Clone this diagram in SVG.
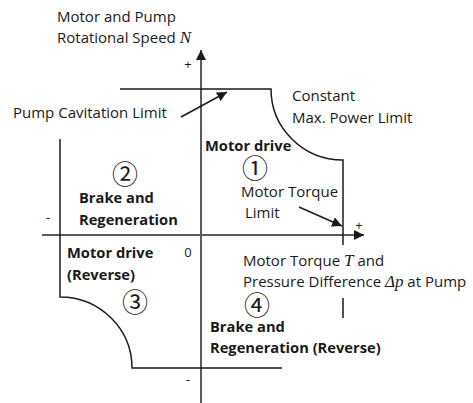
<svg xmlns="http://www.w3.org/2000/svg" width="473" height="403" viewBox="0 0 473 403">
<defs>
<style>
.t{font-family:"Open Sans","Noto Sans",sans-serif;font-size:15px;fill:#1a1a1a}
.b{font-family:"Open Sans","Noto Sans",sans-serif;font-size:14.7px;font-weight:bold;fill:#1a1a1a}
.i{font-family:"Liberation Serif",serif;font-style:italic;font-size:17px}
.c{font-family:"Noto Sans CJK JP",sans-serif;font-size:26px;fill:#1a1a1a;text-anchor:middle}
.s{font-family:"Open Sans","Noto Sans",sans-serif;font-size:13px;fill:#1a1a1a;text-anchor:middle}
.ax{stroke:#5a5a5a;stroke-width:2;fill:none}
.lim{stroke:#1a1a1a;stroke-width:1.5;fill:none}
.ar{stroke:#1a1a1a;stroke-width:1.5;fill:none}
</style>
<marker id="ah" viewBox="0 0 10 10" refX="10" refY="5" markerWidth="10" markerHeight="10" markerUnits="userSpaceOnUse" orient="auto">
<path d="M0,0 L10,5 L0,10 z" fill="#1a1a1a"/>
</marker>
<marker id="axh" viewBox="0 0 10 10" refX="10" refY="5" markerWidth="10" markerHeight="10" markerUnits="userSpaceOnUse" orient="auto">
<path d="M0,0 L10,5 L0,10 z" fill="#1a1a1a"/>
</marker>
</defs>
<rect width="473" height="403" fill="#ffffff"/>
<g id="connectors">
<line class="ax" x1="201" y1="403" x2="201" y2="50" marker-end="url(#axh)"/>
<line class="ax" x1="42" y1="235" x2="364" y2="235" marker-end="url(#axh)"/>
<path class="lim" d="M120,89 H271 A72,71 0 0 0 343,160 V245"/>
<path class="lim" d="M343,298 V318"/>
<path class="lim" d="M60,139 V297 A72,71 0 0 1 132,368 H282"/>
<line class="ar" x1="181" y1="117" x2="227" y2="92" marker-end="url(#ah)"/>
<line class="ar" x1="299" y1="207" x2="342" y2="226" marker-end="url(#ah)"/>
</g>
<g id="axis-labels">
<text class="t" x="57" y="22">Motor and Pump</text>
<text class="t" x="57" y="43">Rotational Speed <tspan class="i">N</tspan></text>
<text class="t" x="243" y="266">Motor Torque <tspan class="i">T</tspan> and</text>
<text class="t" x="243" y="287">Pressure Difference <tspan class="i">Δp</tspan> at Pump</text>
<text class="s" x="188" y="69">+</text>
<text class="s" x="359" y="230">+</text>
<text class="s" x="48" y="222">-</text>
<text class="s" x="188" y="384">-</text>
<text class="s" x="188" y="257">0</text>
</g>
<g id="limit-labels">
<text class="t" x="13" y="118">Pump Cavitation Limit</text>
<text class="t" x="292" y="101">Constant</text>
<text class="t" x="292" y="123">Max. Power Limit</text>
<text class="t" x="241" y="197">Motor Torque</text>
<text class="t" x="245" y="218">Limit</text>
</g>
<g id="q1">
<text class="b" x="205" y="151">Motor drive</text>
<text class="c" x="255" y="178">①</text>
</g>
<g id="q2">
<text class="c" x="125" y="184">②</text>
<text class="b" x="79" y="203">Brake and</text>
<text class="b" x="79" y="225">Regeneration</text>
</g>
<g id="q3">
<text class="b" x="67" y="258">Motor drive</text>
<text class="b" x="67" y="280">(Reverse)</text>
<text class="c" x="135" y="312">③</text>
</g>
<g id="q4">
<text class="c" x="257" y="315">④</text>
<text class="b" x="210" y="332">Brake and</text>
<text class="b" x="210" y="353">Regeneration (Reverse)</text>
</g>
</svg>
